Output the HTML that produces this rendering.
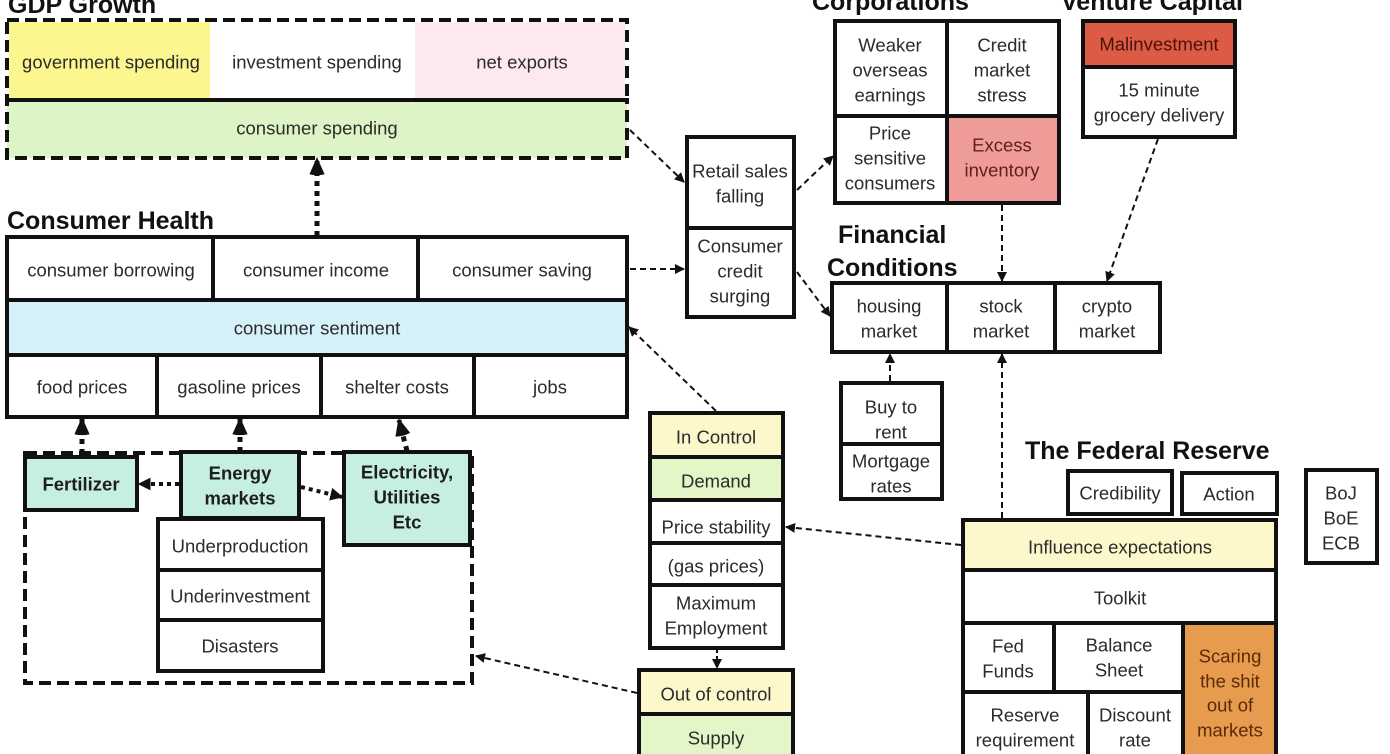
<!DOCTYPE html>
<html><head><meta charset="utf-8"><style>
html,body{margin:0;padding:0;background:#fff;}
svg{display:block;}
text{font-family:"Liberation Sans",Arial,sans-serif;fill:#2b2b2b;}
.c{font-size:18.5px;text-anchor:middle;dominant-baseline:central;}
.b{font-size:18.5px;font-weight:bold;text-anchor:middle;dominant-baseline:central;fill:#1e1e1e;}
.t{font-size:25px;font-weight:bold;fill:#111;}
.box{fill:none;stroke:#111;stroke-width:4;}
.ln{stroke:#111;stroke-width:4;}
.dbox{fill:none;stroke:#111;stroke-width:4;stroke-dasharray:12 6;}
.th{stroke:#111;stroke-width:2;stroke-dasharray:6 4;fill:none;}
.tk{stroke:#111;stroke-width:5;stroke-dasharray:5 5;fill:none;}
.md{stroke:#111;stroke-width:4;stroke-dasharray:4 4;fill:none;}
</style></head><body>
<svg width="1390" height="754" viewBox="0 0 1390 754" xmlns="http://www.w3.org/2000/svg">
<defs>
<marker id="a" viewBox="0 0 10 10" refX="9" refY="5" markerWidth="10" markerHeight="10" markerUnits="userSpaceOnUse" orient="auto"><path d="M0,0 L10,5 L0,10 z" fill="#111"/></marker>
<marker id="m" viewBox="0 0 10 10" refX="9" refY="5" markerWidth="13" markerHeight="13" markerUnits="userSpaceOnUse" orient="auto"><path d="M0,0 L10,5 L0,10 z" fill="#111"/></marker>
<marker id="k" viewBox="0 0 10 10" refX="9" refY="5" markerWidth="19" markerHeight="19" markerUnits="userSpaceOnUse" orient="auto"><path d="M1,1 L10,5 L1,9 Q0,5 1,1 z" fill="#111"/></marker>
</defs>

<!-- GDP Growth -->
<text class="t" x="8" y="13">GDP Growth</text>
<rect x="9" y="22" width="201" height="77" fill="#fcf68f"/>
<rect x="415" y="22" width="210" height="77" fill="#fce9ee"/>
<rect x="7" y="100" width="620" height="58" fill="#ddf5c6"/>
<rect class="dbox" x="7" y="20" width="620" height="80"/>
<rect class="dbox" x="7" y="100" width="620" height="58"/>
<text class="c" x="111" y="62">government spending</text>
<text class="c" x="317" y="62">investment spending</text>
<text class="c" x="522" y="62">net exports</text>
<text class="c" x="317" y="128">consumer spending</text>

<!-- Consumer Health -->
<text class="t" x="7" y="229">Consumer Health</text>
<rect x="7" y="300" width="620" height="55" fill="#d5f1fa"/>
<rect class="box" x="7" y="237" width="620" height="180"/>
<line class="ln" x1="7" y1="300" x2="627" y2="300"/>
<line class="ln" x1="7" y1="355" x2="627" y2="355"/>
<line class="ln" x1="213" y1="237" x2="213" y2="300"/>
<line class="ln" x1="418" y1="237" x2="418" y2="300"/>
<line class="ln" x1="157" y1="355" x2="157" y2="417"/>
<line class="ln" x1="321" y1="355" x2="321" y2="417"/>
<line class="ln" x1="474" y1="355" x2="474" y2="417"/>
<text class="c" x="111" y="270">consumer borrowing</text>
<text class="c" x="316" y="270">consumer income</text>
<text class="c" x="522" y="270">consumer saving</text>
<text class="c" x="317" y="328">consumer sentiment</text>
<text class="c" x="82" y="387">food prices</text>
<text class="c" x="239" y="387">gasoline prices</text>
<text class="c" x="397" y="387">shelter costs</text>
<text class="c" x="550" y="387">jobs</text>

<!-- thick dotted arrows -->
<line class="tk" x1="317" y1="236" x2="317" y2="159" marker-end="url(#k)"/>
<line class="tk" x1="82" y1="454" x2="82" y2="419" marker-end="url(#k)"/>
<line class="tk" x1="240" y1="452" x2="240" y2="419" marker-end="url(#k)"/>
<line class="tk" x1="407" y1="451" x2="399" y2="420" marker-end="url(#k)"/>

<!-- bottom-left group -->
<rect class="dbox" x="25" y="453" width="447" height="230"/>
<rect x="25" y="457" width="112" height="53" fill="#c6eee2" stroke="#111" stroke-width="4"/>
<rect x="181" y="452" width="118" height="66" fill="#c6eee2" stroke="#111" stroke-width="4"/>
<rect x="344" y="452" width="126" height="93" fill="#c6eee2" stroke="#111" stroke-width="4"/>
<text class="b" x="81" y="484">Fertilizer</text>
<text class="b" x="240" y="473">Energy</text>
<text class="b" x="240" y="498">markets</text>
<text class="b" x="407" y="472">Electricity,</text>
<text class="b" x="407" y="497">Utilities</text>
<text class="b" x="407" y="522">Etc</text>
<rect x="158" y="519" width="165" height="152" fill="#fff" stroke="#111" stroke-width="4"/>
<line class="ln" x1="158" y1="570" x2="323" y2="570"/>
<line class="ln" x1="158" y1="620" x2="323" y2="620"/>
<text class="c" x="240" y="546">Underproduction</text>
<text class="c" x="240" y="596">Underinvestment</text>
<text class="c" x="240" y="646">Disasters</text>
<line class="md" x1="179" y1="484" x2="139" y2="484" marker-end="url(#m)"/>
<line class="md" x1="301" y1="487" x2="342" y2="497" marker-end="url(#m)"/>

<!-- Retail / credit -->
<rect class="box" x="687" y="137" width="107" height="180"/>
<line class="ln" x1="687" y1="228" x2="794" y2="228"/>
<text class="c" x="740" y="171">Retail sales</text>
<text class="c" x="740" y="196">falling</text>
<text class="c" x="740" y="246">Consumer</text>
<text class="c" x="740" y="271">credit</text>
<text class="c" x="740" y="296">surging</text>

<!-- In control column -->
<rect x="650" y="413" width="133" height="44" fill="#fdf8cc"/>
<rect x="650" y="457" width="133" height="43" fill="#e2f6c8"/>
<rect class="box" x="650" y="413" width="133" height="235"/>
<line class="ln" x1="650" y1="457" x2="783" y2="457"/>
<line class="ln" x1="650" y1="500" x2="783" y2="500"/>
<line class="ln" x1="650" y1="543" x2="783" y2="543"/>
<line class="ln" x1="650" y1="585" x2="783" y2="585"/>
<text class="c" x="716" y="437">In Control</text>
<text class="c" x="716" y="481">Demand</text>
<text class="c" x="716" y="527">Price stability</text>
<text class="c" x="716" y="566">(gas prices)</text>
<text class="c" x="716" y="603">Maximum</text>
<text class="c" x="716" y="628">Employment</text>

<rect x="639" y="670" width="154" height="44" fill="#fdf8cc"/>
<rect x="639" y="714" width="154" height="46" fill="#e2f6c8"/>
<rect class="box" x="639" y="670" width="154" height="90"/>
<line class="ln" x1="639" y1="714" x2="793" y2="714"/>
<text class="c" x="716" y="694">Out of control</text>
<text class="c" x="716" y="738">Supply</text>

<!-- Corporations -->
<text class="t" x="812" y="10">Corporations</text>
<rect x="947" y="116" width="112" height="87" fill="#ef9b98"/>
<rect class="box" x="835" y="21" width="224" height="182"/>
<line class="ln" x1="947" y1="21" x2="947" y2="203"/>
<line class="ln" x1="835" y1="116" x2="1059" y2="116"/>
<text class="c" x="890" y="45">Weaker</text>
<text class="c" x="890" y="70">overseas</text>
<text class="c" x="890" y="95">earnings</text>
<text class="c" x="1002" y="45">Credit</text>
<text class="c" x="1002" y="70">market</text>
<text class="c" x="1002" y="95">stress</text>
<text class="c" x="890" y="133">Price</text>
<text class="c" x="890" y="158">sensitive</text>
<text class="c" x="890" y="183">consumers</text>
<text class="c" x="1002" y="145" style="fill:#5e1f1f">Excess</text>
<text class="c" x="1002" y="170" style="fill:#5e1f1f">inventory</text>

<!-- Venture Capital -->
<text class="t" x="1061" y="10">Venture Capital</text>
<rect x="1083" y="21" width="152" height="46" fill="#dc5b45"/>
<rect class="box" x="1083" y="21" width="152" height="116"/>
<line class="ln" x1="1083" y1="67" x2="1235" y2="67"/>
<text class="c" x="1159" y="44" style="fill:#4a120a">Malinvestment</text>
<text class="c" x="1159" y="90">15 minute</text>
<text class="c" x="1159" y="115">grocery delivery</text>

<!-- Financial Conditions -->
<text class="t" x="838" y="243">Financial</text>
<text class="t" x="827" y="276">Conditions</text>
<rect class="box" x="832" y="283" width="328" height="69"/>
<line class="ln" x1="947" y1="283" x2="947" y2="352"/>
<line class="ln" x1="1055" y1="283" x2="1055" y2="352"/>
<text class="c" x="889" y="306">housing</text>
<text class="c" x="889" y="331">market</text>
<text class="c" x="1001" y="306">stock</text>
<text class="c" x="1001" y="331">market</text>
<text class="c" x="1107" y="306">crypto</text>
<text class="c" x="1107" y="331">market</text>

<rect class="box" x="841" y="383" width="101" height="116"/>
<line class="ln" x1="841" y1="444" x2="942" y2="444"/>
<text class="c" x="891" y="407">Buy to</text>
<text class="c" x="891" y="432">rent</text>
<text class="c" x="891" y="461">Mortgage</text>
<text class="c" x="891" y="486">rates</text>

<!-- Federal Reserve -->
<text class="t" x="1025" y="459">The Federal Reserve</text>
<rect class="box" x="1068" y="471" width="104" height="43"/>
<text class="c" x="1120" y="493">Credibility</text>
<rect class="box" x="1182" y="473" width="95" height="41"/>
<text class="c" x="1229" y="494">Action</text>
<rect class="box" x="1306" y="470" width="71" height="93"/>
<text class="c" x="1341" y="493">BoJ</text>
<text class="c" x="1341" y="518">BoE</text>
<text class="c" x="1341" y="543">ECB</text>

<rect x="963" y="520" width="313" height="50" fill="#fdf8cc"/>
<rect x="1183" y="623" width="93" height="140" fill="#e69b4f"/>
<rect class="box" x="963" y="520" width="313" height="245"/>
<line class="ln" x1="963" y1="570" x2="1276" y2="570"/>
<line class="ln" x1="963" y1="623" x2="1276" y2="623"/>
<line class="ln" x1="1054" y1="623" x2="1054" y2="692"/>
<line class="ln" x1="1183" y1="623" x2="1183" y2="760"/>
<line class="ln" x1="963" y1="692" x2="1183" y2="692"/>
<line class="ln" x1="1088" y1="692" x2="1088" y2="760"/>
<text class="c" x="1120" y="547">Influence expectations</text>
<text class="c" x="1120" y="598">Toolkit</text>
<text class="c" x="1008" y="646">Fed</text>
<text class="c" x="1008" y="671">Funds</text>
<text class="c" x="1119" y="645">Balance</text>
<text class="c" x="1119" y="670">Sheet</text>
<text class="c" x="1230" y="656" style="fill:#5a2a05">Scaring</text>
<text class="c" x="1230" y="681" style="fill:#5a2a05">the shit</text>
<text class="c" x="1230" y="705" style="fill:#5a2a05">out of</text>
<text class="c" x="1230" y="730" style="fill:#5a2a05">markets</text>
<text class="c" x="1025" y="715">Reserve</text>
<text class="c" x="1025" y="740">requirement</text>
<text class="c" x="1135" y="715">Discount</text>
<text class="c" x="1135" y="740">rate</text>

<!-- thin dashed connectors -->
<line class="th" x1="630" y1="130" x2="684" y2="182" marker-end="url(#a)"/>
<line class="th" x1="630" y1="269" x2="684" y2="269" marker-end="url(#a)"/>
<line class="th" x1="797" y1="190" x2="833" y2="156" marker-end="url(#a)"/>
<line class="th" x1="797" y1="272" x2="830" y2="316" marker-end="url(#a)"/>
<line class="th" x1="716" y1="411" x2="629" y2="327" marker-end="url(#a)"/>
<line class="th" x1="961" y1="545" x2="786" y2="527" marker-end="url(#a)"/>
<line class="th" x1="1002" y1="518" x2="1002" y2="354" marker-end="url(#a)"/>
<line class="th" x1="890" y1="381" x2="890" y2="354" marker-end="url(#a)"/>
<line class="th" x1="1002" y1="205" x2="1002" y2="281" marker-end="url(#a)"/>
<line class="th" x1="1158" y1="139" x2="1107" y2="281" marker-end="url(#a)"/>
<line class="th" x1="637" y1="693" x2="476" y2="656" marker-end="url(#a)"/>
<line class="th" x1="717" y1="650" x2="717" y2="668" marker-end="url(#a)" style="stroke-dasharray:3 3"/>
</svg>
</body></html>
